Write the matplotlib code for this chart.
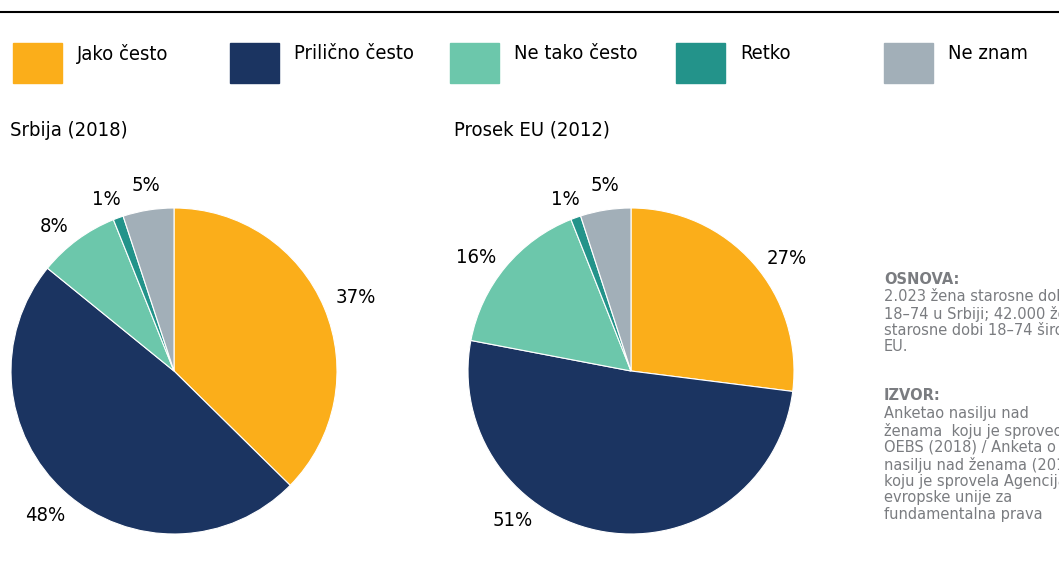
import matplotlib
matplotlib.use("Agg")
import matplotlib.pyplot as plt
import numpy as np

# data
categories = ["Jako često", "Prilično često", "Ne tako često", "Retko", "Ne znam"]
colors = ["#FBAE1A", "#1B3461", "#6CC7AB", "#23938A", "#A2AFB8"]
srbija = [37, 48, 8, 1, 5]
eu = [27, 51, 16, 1, 5]
titles = ["Srbija (2018)", "Prosek EU (2012)"]

osnova_lines = ["2.023 žena starosne dobi", "18–74 u Srbiji; 42.000 žena",
                "starosne dobi 18–74 širom", "EU."]
izvor_lines = ["Anketao nasilju nad", "ženama  koju je sproveo",
               "OEBS (2018) / Anketa o", "nasilju nad ženama (2012)",
               "koju je sprovela Agencija", "evropske unije za",
               "fundamentalna prava"]

# label placement (angle in degrees, radius in pie units) for each pie
label_pos = [
    [(22, 1.2), (-131.7, 1.19), (129.6, 1.15), (111.6, 1.13), (98.6, 1.15)],
    [(35.9, 1.18), (-128.4, 1.17), (143.7, 1.18), (111, 1.13), (98, 1.15)],
]

W, H = 1059, 561
font = dict(family="DejaVu Sans", stretch="condensed")
fig = plt.figure(figsize=(W / 100, H / 100), dpi=100)


def fx(px):
    return px / W


def fy(py):
    return 1 - py / H


# top rule
fig.add_artist(plt.Line2D([0, 1], [fy(12), fy(12)], color="black", lw=1.5))

# legend
patch_x = [13, 230, 450, 676, 884]
for x, c, lab in zip(patch_x, colors, categories):
    fig.add_artist(plt.Rectangle((fx(x), fy(83)), fx(49), 40 / H, color=c))
    fig.text(fx(x + 64), fy(54), lab, fontsize=14.5, va="center", ha="left",
             color="black", **font)

# pies
centers = [(174, 371), (631, 371)]
title_x = [10, 454]
R = 163
for (cx, cy), vals, title, tx, lp in zip(centers, [srbija, eu], titles,
                                         title_x, label_pos):
    ax = fig.add_axes([fx(cx - R), (H - cy - R) / H, 2 * R / W, 2 * R / H])
    ax.pie(vals, colors=colors, startangle=90, counterclock=False,
           wedgeprops=dict(edgecolor="white", linewidth=0.8))
    ax.set_xlim(-1, 1)
    ax.set_ylim(-1, 1)
    for v, (a, r) in zip(vals, lp):
        ang = np.deg2rad(a)
        ax.text(r * np.cos(ang), r * np.sin(ang), f"{v}%", fontsize=14.5,
                ha="center", va="center", **font)
    fig.text(fx(tx), fy(130), title, fontsize=14.5, va="center", ha="left",
             **font)

# notes
gray = "#7A7C80"
fig.text(fx(884), fy(279), "OSNOVA:", fontsize=10.5, fontweight="bold",
         color=gray, va="center", ha="left")
fig.text(fx(884), fy(289), "\n".join(osnova_lines), fontsize=10.5, color=gray,
         va="top", ha="left", linespacing=1.12)
fig.text(fx(884), fy(396), "IZVOR:", fontsize=10.5, fontweight="bold",
         color=gray, va="center", ha="left")
fig.text(fx(884), fy(406), "\n".join(izvor_lines), fontsize=10.5, color=gray,
         va="top", ha="left", linespacing=1.12)

fig.savefig("out.png", dpi=100)
